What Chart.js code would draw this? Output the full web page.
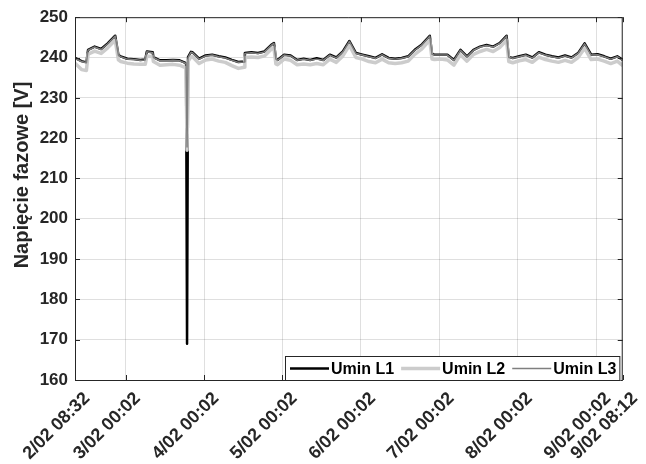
<!DOCTYPE html>
<html>
<head>
<meta charset="utf-8">
<script src="https://cdn.jsdelivr.net/npm/chart.js@4.4.0/dist/chart.umd.min.js"></script>
<style>
  html, body { margin: 0; padding: 0; background: #fff; }
  #wrap { width: 646px; height: 464px; }
</style>
</head>
<body>
<div id="wrap"><canvas id="myChart"></canvas></div>
<script>
// time in hours counted from 2/02 08:32
var hours = [
  0, 2, 3.5, 4, 6, 8, 10, 12.3, 13.3, 14,
  16, 18, 20, 21.5, 22, 23.8, 24, 26, 28, 30,
  32, 34, 34.3, 34.6, 35.5, 36, 38, 40, 42, 44,
  46, 48, 50, 51.8, 52, 54, 56, 58, 60, 60.9,
  61.5, 62, 64, 66, 68, 70, 72, 74, 76, 78,
  80, 82, 84, 86, 88, 90, 92, 94, 96, 98,
  100, 102, 104, 106, 108.6, 109.3, 110, 112, 114, 116,
  118, 120, 122, 124, 126, 128, 130, 132.1, 132.8, 134,
  136, 138, 140, 142, 144, 146, 148, 150, 152, 154,
  156, 158, 160, 162, 164, 166, 167.67
];

var uminL1 = [
  239.9, 239.1, 238.8, 241.9, 242.7, 242.1, 243.5, 245.4, 240.6, 240.3,
  239.7, 239.6, 239.4, 239.5, 241.5, 241.3, 240.1, 239.3, 239.3, 239.4,
  239.3, 238.6, 169.0, 240.1, 241.4, 241.3, 239.7, 240.5, 240.7, 240.3,
  240.0, 239.4, 238.9, 239.0, 241.1, 241.3, 241.1, 241.5, 243.1, 243.6,
  239.7, 239.4, 240.7, 240.5, 239.4, 239.7, 239.4, 239.8, 239.4, 240.7,
  240.0, 241.5, 244.1, 241.1, 240.7, 240.3, 239.9, 240.8, 239.9, 239.7,
  239.9, 240.3, 241.9, 243.1, 245.4, 240.9, 240.7, 240.7, 240.7, 239.4,
  241.9, 240.3, 241.9, 242.7, 243.1, 242.7, 243.6, 245.4, 240.1, 239.9,
  240.3, 240.7, 240.0, 241.3, 240.7, 240.3, 240.0, 240.5, 240.0, 241.1,
  243.5, 240.7, 240.8, 240.3, 239.7, 240.3, 239.4
];

var uminL2 = [
  238.6, 237.0, 236.8, 240.8, 241.6, 241.0, 242.4, 244.3, 239.4, 239.0,
  238.6, 238.4, 238.3, 238.3, 240.4, 240.2, 239.0, 238.1, 238.2, 238.3,
  238.1, 237.4, 217.0, 239.0, 240.2, 240.2, 238.5, 239.4, 239.6, 239.1,
  238.8, 238.0, 237.3, 237.6, 240.0, 240.1, 240.0, 240.4, 242.0, 242.5,
  238.4, 238.2, 239.6, 239.3, 238.2, 238.4, 238.2, 238.5, 238.2, 239.6,
  238.8, 240.4, 243.0, 240.0, 239.6, 239.0, 238.7, 239.6, 238.7, 238.5,
  238.7, 239.1, 240.8, 242.0, 244.3, 239.6, 239.5, 239.6, 239.4, 238.1,
  240.7, 239.1, 240.8, 241.5, 242.0, 241.5, 242.5, 244.3, 239.0, 238.7,
  239.2, 239.5, 238.8, 240.1, 239.5, 239.1, 238.8, 239.3, 238.8, 240.0,
  242.3, 239.5, 239.6, 239.1, 238.5, 239.1, 238.0
];

var uminL3 = [
  239.8, 239.0, 238.7, 241.8, 242.6, 242.0, 243.4, 245.3, 240.5, 240.2,
  239.6, 239.5, 239.3, 239.4, 241.4, 241.2, 240.0, 239.2, 239.2, 239.3,
  239.2, 238.5, 217.8, 240.0, 241.3, 241.2, 239.6, 240.4, 240.6, 240.2,
  239.9, 239.3, 238.8, 238.9, 241.0, 241.2, 241.0, 241.4, 243.0, 243.5,
  239.6, 239.3, 240.6, 240.4, 239.3, 239.6, 239.3, 239.6, 239.3, 240.6,
  239.9, 241.4, 244.0, 241.0, 240.6, 240.2, 239.8, 240.7, 239.8, 239.6,
  239.8, 240.2, 241.8, 243.0, 245.3, 240.8, 240.6, 240.6, 240.6, 239.3,
  241.8, 240.2, 241.8, 242.6, 243.0, 242.6, 243.5, 245.3, 240.0, 239.8,
  240.2, 240.6, 239.9, 241.2, 240.6, 240.2, 239.9, 240.4, 239.9, 241.0,
  243.4, 240.6, 240.7, 240.2, 239.6, 240.2, 239.3
];

var tickHours = [0, 15.5, 39.5, 63.5, 87.5, 111.5, 135.5, 159.5, 167.67];
var tickLabels = ['2/02 08:32', '3/02 00:02', '4/02 00:02', '5/02 00:02', '6/02 00:02',
                  '7/02 00:02', '8/02 00:02', '9/02 00:02', '9/02 08:12'];
var seriesNames = ['Umin L1', 'Umin L2', 'Umin L3'];
var yTitle = 'Napięcie fazowe [V]';

var fontFamily = '"Liberation Sans", Arial, sans-serif';
var gridColor = 'rgba(38,38,38,0.15)';
var axisColor = '#262626';

Chart.defaults.font.family = fontFamily;
Chart.defaults.color = axisColor;

function toPoints(vals) {
  return hours.map(function(h, i) { return { x: h, y: vals[i] }; });
}

// box round the plot with inward tick marks
var boxPlugin = {
  id: 'matlabBox',
  afterDatasetsDraw: function(chart) {
    var a = chart.chartArea, ctx = chart.ctx;
    var xs = chart.scales.x, ys = chart.scales.y;
    var len = 5;
    ctx.save();
    ctx.strokeStyle = axisColor;
    ctx.lineWidth = 1;
    ctx.beginPath();
    ctx.rect(a.left + 0.5, a.top + 0.5, a.right - a.left - 1, a.bottom - a.top);
    xs.ticks.forEach(function(t) {
      var px = Math.round(xs.getPixelForValue(t.value)) + 0.5;
      ctx.moveTo(px, a.bottom); ctx.lineTo(px, a.bottom - len);
      ctx.moveTo(px, a.top); ctx.lineTo(px, a.top + len);
    });
    ys.ticks.forEach(function(t) {
      var py = Math.round(ys.getPixelForValue(t.value)) + 0.5;
      ctx.moveTo(a.left, py); ctx.lineTo(a.left + len, py);
      ctx.moveTo(a.right, py); ctx.lineTo(a.right - len, py);
    });
    ctx.stroke();
    ctx.restore();
  }
};

// legend box inside the plot, bottom right
var legendPlugin = {
  id: 'insideLegend',
  afterDraw: function(chart) {
    var a = chart.chartArea, ctx = chart.ctx;
    var sets = chart.data.datasets;
    var lineLen = 39, gap = 2, itemGap = 7, padL = 5, padR = 4, h = 25;
    ctx.save();
    ctx.font = 'bold 16px ' + fontFamily;
    var widths = sets.map(function(ds) { return ctx.measureText(ds.label).width; });
    var total = padL + padR;
    widths.forEach(function(w, i) {
      total += lineLen + gap + w + (i < sets.length - 1 ? itemGap : 0);
    });
    var right = a.right - 2, bottom = a.bottom + 1;
    var left = Math.round(right - total), top = bottom - h;
    ctx.fillStyle = '#fff';
    ctx.fillRect(left, top, total, h);
    ctx.strokeStyle = axisColor;
    ctx.lineWidth = 1;
    ctx.strokeRect(left + 0.5, top + 0.5, total - 1, h - 1);
    var x = left + padL, cy = top + h / 2;
    sets.forEach(function(ds, i) {
      ctx.strokeStyle = ds.borderColor;
      ctx.lineWidth = ds.borderWidth;
      ctx.beginPath();
      ctx.moveTo(x, cy);
      ctx.lineTo(x + lineLen, cy);
      ctx.stroke();
      x += lineLen + gap;
      ctx.fillStyle = '#000';
      ctx.textBaseline = 'middle';
      ctx.textAlign = 'left';
      ctx.fillText(ds.label, x, cy + 1);
      x += widths[i] + itemGap;
    });
    ctx.restore();
  }
};

// y axis title, sits a bit above the middle like in the source figure
var yTitlePlugin = {
  id: 'yTitle',
  afterDraw: function(chart) {
    var ctx = chart.ctx;
    ctx.save();
    ctx.translate(28, 175);
    ctx.rotate(-Math.PI / 2);
    ctx.font = 'bold 20px ' + fontFamily;
    ctx.fillStyle = axisColor;
    ctx.textAlign = 'center';
    ctx.textBaseline = 'alphabetic';
    ctx.fillText(yTitle, 0, 0);
    ctx.restore();
  }
};

var ctx = document.getElementById('myChart').getContext('2d');
var chart = new Chart(ctx, {
  type: 'line',
  data: {
    datasets: [
      { label: seriesNames[0], data: toPoints(uminL1), borderColor: '#000000', borderWidth: 2.5, order: 3 },
      { label: seriesNames[1], data: toPoints(uminL2), borderColor: '#cccccc', borderWidth: 3.5, order: 2 },
      { label: seriesNames[2], data: toPoints(uminL3), borderColor: '#7f7f7f', borderWidth: 1.5, order: 1 }
    ]
  },
  options: {
    responsive: true,
    maintainAspectRatio: false,
    animation: false,
    devicePixelRatio: 1,
    layout: { padding: { top: 16, right: 20, left: 0, bottom: 0 } },
    elements: {
      point: { radius: 0 },
      line: { tension: 0, borderJoinStyle: 'round' }
    },
    plugins: {
      legend: { display: false },
      tooltip: { enabled: false }
    },
    scales: {
      x: {
        type: 'linear',
        min: 0,
        max: 167.67,
        afterBuildTicks: function(scale) {
          scale.ticks = tickHours.map(function(v) { return { value: v }; });
        },
        afterFit: function(scale) { scale.height = 84; },
        ticks: {
          autoSkip: false,
          maxRotation: 45,
          minRotation: 45,
          padding: 8,
          labelOffset: 12,
          color: axisColor,
          font: { size: 18, weight: 'bold' },
          callback: function(v, i) { return tickLabels[i]; }
        },
        grid: { color: gridColor, drawTicks: false },
        border: { display: false }
      },
      y: {
        min: 160,
        max: 250,
        afterFit: function(scale) { scale.width = 75; },
        ticks: {
          stepSize: 10,
          padding: 7,
          color: axisColor,
          font: { size: 17, weight: 'bold' }
        },
        grid: { color: gridColor, drawTicks: false },
        border: { display: false }
      }
    }
  },
  plugins: [boxPlugin, legendPlugin, yTitlePlugin]
});
</script>
</body>
</html>
